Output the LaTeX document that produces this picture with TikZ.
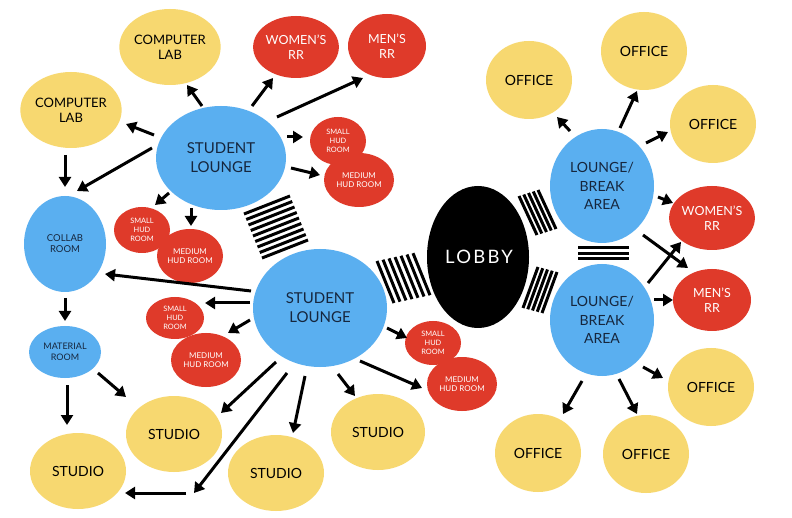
\documentclass[tikz,border=0pt]{standalone}
\usepackage{fontspec}
\setmainfont{Lato}
\usetikzlibrary{shapes.geometric,arrows.meta}
\definecolor{yel}{HTML}{F7D870}
\definecolor{blu}{HTML}{5AAFF0}
\definecolor{rdd}{HTML}{DF3A2A}
\definecolor{navy}{HTML}{16263D}
\newcommand\fsz[2]{\fontsize{#1}{#2}\selectfont}
\begin{document}
\begin{tikzpicture}[x=1pt,y=-1pt,
  bub/.style={ellipse, inner sep=0pt, align=center},
  ybub/.style={bub, fill=yel, text=black},
  bbub/.style={bub, fill=blu, text=navy},
  rbub/.style={bub, fill=rdd, text=white},
  kbub/.style={bub, fill=black, text=white},
  arr/.style={line width=3pt, -{Triangle[length=10pt,width=12pt]}},
  stripe/.style={line width=3pt},
  big/.style={font=\fsz{15}{19}},
  lab/.style={font=\fsz{13}{15}},
  off/.style={font=\fsz{14}{17}},
  rr/.style={font=\fsz{12.5}{15}},
  tiny/.style={font=\fsz{7.4}{9.3}},
  med/.style={font=\fsz{8}{9.3}},
  lbr/.style={font=\fsz{14}{18.7}}]
\fill[white] (0,0) rectangle (792,518);
\useasboundingbox (0,0) rectangle (792,518);

% left cluster
\node[ybub, lab, minimum width=94, minimum height=76] (cl1) at (170,47) {COMPUTER\\LAB};
\node[rbub, rr, minimum width=78, minimum height=62] (wr1) at (296,47) {WOMEN'S\\RR};
\node[rbub, rr, minimum width=78, minimum height=64] (mr1) at (387,46) {MEN'S\\RR};
\node[ybub, lab, minimum width=96, minimum height=76] (cl2) at (71,110) {COMPUTER\\LAB};
\node[bbub, big, minimum width=130, minimum height=104] (sl1) at (221,158) {STUDENT\\LOUNGE};
\node[rbub, tiny, minimum width=56, minimum height=48] (sh1) at (338,141) {SMALL\\HUD\\ROOM};
\node[rbub, med, minimum width=70, minimum height=54] (mh1) at (359,180) {MEDIUM\\HUD ROOM};
\node[bbub, font=\fsz{9.5}{11}, minimum width=82, minimum height=96] (co) at (65,244) {COLLAB\\ROOM};
\node[rbub, tiny, minimum width=56, minimum height=46] (sh2) at (142,230) {SMALL\\HUD\\ROOM};
\node[rbub, med, minimum width=66, minimum height=54] (mh2) at (190,256) {MEDIUM\\HUD ROOM};
\node[bbub, big, minimum width=134, minimum height=118] (sl2) at (320,308) {STUDENT\\LOUNGE};
\node[rbub, tiny, minimum width=58, minimum height=42] (sh3) at (175,318) {SMALL\\HUD\\ROOM};
\node[rbub, med, minimum width=70, minimum height=54] (mh3) at (206,360) {MEDIUM\\HUD ROOM};
\node[bbub, font=\fsz{9}{11.5}, minimum width=72, minimum height=52] (mat) at (65,352) {MATERIAL\\ROOM};
\node[ybub, off, minimum width=96, minimum height=76] (st1) at (174,434) {STUDIO};
\node[ybub, off, minimum width=96, minimum height=76] (st2) at (78,471) {STUDIO};
\node[ybub, off, minimum width=96, minimum height=76] (st3) at (276,473) {STUDIO};
\node[ybub, off, minimum width=94, minimum height=76] (st4) at (378,432) {STUDIO};
\node[rbub, tiny, minimum width=56, minimum height=44] (sh4) at (433,343) {SMALL\\HUD\\ROOM};
\node[rbub, med, minimum width=70, minimum height=54] (mh4) at (462,384) {MEDIUM\\HUD ROOM};

% lobby
\node[kbub, font=\fsz{18.5}{20}\addfontfeatures{LetterSpace=12}, minimum width=102, minimum height=142] (lob) at (478,257) {\hspace{2pt}LOBBY};

% right cluster
\node[bbub, lbr, minimum width=104, minimum height=114] (lb1) at (602,186) {LOUNGE/\\BREAK\\AREA};
\node[bbub, lbr, minimum width=104, minimum height=112] (lb2) at (602,320) {LOUNGE/\\BREAK\\AREA};
\node[ybub, off, minimum width=86, minimum height=78] (of1) at (529,80) {OFFICE};
\node[ybub, off, minimum width=86, minimum height=78] (of2) at (644,51) {OFFICE};
\node[ybub, off, minimum width=86, minimum height=78] (of3) at (713,124) {OFFICE};
\node[rbub, rr, minimum width=78, minimum height=64] (wr2) at (712,218) {WOMEN'S\\RR};
\node[rbub, rr, minimum width=78, minimum height=62] (mr2) at (712,300) {MEN'S\\RR};
\node[ybub, off, minimum width=86, minimum height=78] (of4) at (711,387) {OFFICE};
\node[ybub, off, minimum width=86, minimum height=78] (of5) at (538,453) {OFFICE};
\node[ybub, off, minimum width=86, minimum height=78] (of6) at (646,454) {OFFICE};

% stripes (hatched links)
\foreach \i in {0,...,8} \draw[stripe, shift={(\i*2.25,\i*5.5)}] (244,214) -- (290,196);
\foreach \i in {0,...,6} \draw[stripe, shift={(\i*6,-\i*1.3)}] (377,261) -- (394,303);
\foreach \i in {0,...,4} \draw[stripe, shift={(\i*4.75,-\i*1.5)}] (519,196) -- (537,235);
\foreach \i in {0,...,4} \draw[stripe, shift={(\i*4.75,\i*1.25)}] (538,267) -- (523,308);
\foreach \i in {0,...,2} \draw[stripe, shift={(0,\i*5.5)}] (578,248) -- (629,248);

% arrows
\foreach \n/\sx/\sy/\ex/\ey in {
  a1/202/106/187/85, a2/252/106/273/78, a3/277/117/363/78, a4/154/135/126/124,
  a5/152/148/77/191, a6/287/137/303/137, a7/291/168/320/175, a8/169/193/155/205,
  a9/191/208/191/226, a10/65/155/65/187, a11/65/298/65/321, a12/67/385/67/425,
  a13/98/373/126/397, b1/251/291/105/274, b2/250/303/205/303, b3/250/320/228/333,
  b4/276/362/221/413, b5/287/373/194/493, b6/186/493/125/493, b7/305/376/293/433,
  b8/338/374/355/396, b9/360/361/422/388, b10/387/328/407/338,
  c1/570/131/557/117, c2/620/128/637/91, c3/646/143/668/132, c4/658/197/673/203,
  c5/643/235/688/268, d1/648/283/681/242, d2/654/300/673/300, d3/643/367/663/378,
  d4/582/381/563/414, d5/619/379/637/414}
{
  \coordinate (\n s) at (\sx,\sy);
  \coordinate (\n e) at (\ex,\ey);
  \draw[arr] (\n s) -- (\n e);
}
\end{tikzpicture}
\end{document}
